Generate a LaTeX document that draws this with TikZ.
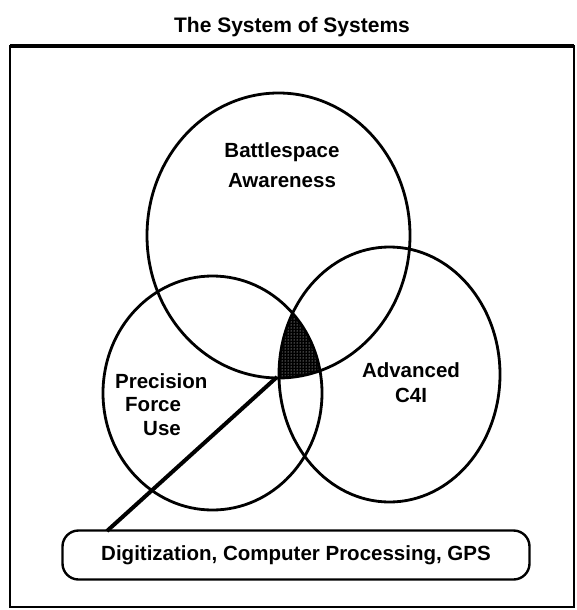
\documentclass[tikz,border=0pt]{standalone}
\usepackage{fontspec}
\setmainfont{Liberation Sans}
\usetikzlibrary{patterns}
\begin{document}
\begin{tikzpicture}[x=1pt,y=-1pt,
  lab/.style={inner sep=0pt, font=\bfseries\fontsize{20.5}{24}\selectfont},
  ring/.style={line width=2.8pt},
  stem/.style={line width=4pt},
  framebox/.style={line width=2pt},
  pill/.style={draw, line width=2.4pt, rounded corners=16pt, minimum width=467pt, minimum height=49pt, inner sep=0pt, font=\bfseries\fontsize{20.5}{24}\selectfont},
  core/.style={fill=black},
  coredots/.style={pattern=dots, pattern color=white}
]
\useasboundingbox (0,0) rectangle (577,610);
% title
\node[inner sep=0pt, anchor=base, font=\bfseries\fontsize{21}{24}\selectfont] (title) at (292,33) {The System of Systems};
% frame
\draw[framebox] (10,46) rectangle (574,607);
\draw[line width=4.5pt] (10,46) -- (574,46);
% shaded intersection of the three circles
\begin{scope}
  \clip (278.5,235.5) ellipse [x radius=131.5, y radius=142.5];
  \clip (212.5,393) ellipse [x radius=109.5, y radius=117];
  \fill[core] (389.5,374.5) ellipse [x radius=110.5, y radius=127.5];
  \fill[coredots] (389.5,374.5) ellipse [x radius=110.5, y radius=127.5];
\end{scope}
% circles
\draw[ring] (278.5,235.5) ellipse [x radius=131.5, y radius=142.5];
\draw[ring] (212.5,393) ellipse [x radius=109.5, y radius=117];
\draw[ring] (389.5,374.5) ellipse [x radius=110.5, y radius=127.5];
% labels
\node[lab, anchor=north, align=center, font=\bfseries\fontsize{20.5}{30}\selectfont] (bsa) at (282,142) {Battlespace\\Awareness};
\node[lab, anchor=north west, align=left, font=\bfseries\fontsize{20.5}{23.5}\selectfont] (pfu) at (115,373) {Precision\\\hspace*{10pt}Force\\\hspace*{28pt}Use};
\node[lab, anchor=north, align=center, font=\bfseries\fontsize{20.5}{25}\selectfont] (c4i) at (411,362) {Advanced\\C4I};
% bottom box
\node[pill] (dig) at (296,555) {Digitization, Computer Processing, GPS};
% connector
\coordinate (hub) at (277,377);
\coordinate (foot) at (107,531);
\draw[stem] (hub) -- (foot);
\end{tikzpicture}
\end{document}
